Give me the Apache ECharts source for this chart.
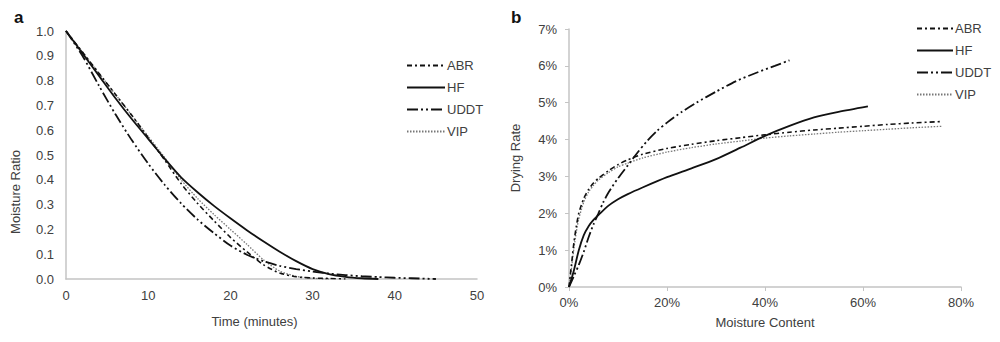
<!DOCTYPE html>
<html><head><meta charset="utf-8">
<script src="https://cdn.jsdelivr.net/npm/echarts@6/dist/echarts.min.js"></script>
<style>html,body{margin:0;padding:0;background:#fff}#c{width:1000px;height:342px}</style>
</head><body><div id="c"></div>
<script>
// ---- Panel a: Moisture Ratio vs Time (minutes)
const seriesNames = ['ABR', 'HF', 'UDDT', 'VIP'];
const timeTicksA = [0, 10, 20, 30, 40, 50];
const abrTime = [0,2,4,6,8,10,12,14,16,18,20,22,24,26,28,30,32,34];
const abrMR   = [1,0.915,0.83,0.745,0.66,0.57,0.48,0.385,0.305,0.235,0.168,0.11,0.058,0.024,0.009,0.004,0.002,0];
const hfTime  = [0,2,4,6,8,10,12,14,16,18,20,22,24,26,28,30,32,34,36,38];
const hfMR    = [1,0.91,0.82,0.73,0.645,0.565,0.485,0.41,0.35,0.295,0.245,0.197,0.152,0.11,0.072,0.04,0.02,0.009,0.003,0];
const uddtTime = [0,2,4,6,8,10,12,14,16,18,20,22,24,26,28,30,32,34,36,38,40,42,45];
const uddtMR   = [1,0.90,0.78,0.665,0.56,0.465,0.38,0.305,0.24,0.185,0.135,0.098,0.072,0.053,0.04,0.03,0.022,0.016,0.011,0.008,0.005,0.003,0];
const vipTime = [0,2,4,6,8,10,12,14,16,18,20,22,24,26,28,30,32];
const vipMR   = [1,0.915,0.83,0.745,0.66,0.575,0.49,0.40,0.325,0.26,0.20,0.14,0.078,0.032,0.011,0.003,0];

// ---- Panel b: Drying Rate (%) vs Moisture Content (%)
const abrMC = [0,0.5,1,1.5,2,3,4,5,6,8,10,12,15,20,25,30,35,40,45,50,55,60,65,70,76];
const abrDR = [0,0.6,1.2,1.65,2.0,2.4,2.65,2.82,2.95,3.15,3.32,3.45,3.6,3.76,3.87,3.97,4.05,4.13,4.2,4.26,4.31,4.36,4.41,4.45,4.49];
const hfMC = [0,1,2,3,4,5,6,8,10,12,15,20,25,30,35,40,45,50,55,61];
const hfDR = [0,0.45,1.0,1.4,1.65,1.82,1.95,2.2,2.38,2.52,2.7,2.98,3.22,3.47,3.78,4.1,4.37,4.6,4.75,4.9];
const uddtMC = [0,1,2,3,4,5,6,7,8,10,12,14,16,18,20,23,26,30,34,38,42,45];
const uddtDR = [0,0.3,0.6,0.95,1.35,1.7,2.0,2.3,2.55,2.95,3.3,3.65,3.97,4.24,4.46,4.75,5.0,5.3,5.58,5.8,6.0,6.15];
const vipMC = [0,0.5,1,1.5,2,3,4,5,6,8,10,12,15,20,25,30,35,40,45,50,55,60,65,70,76];
const vipDR = [0,0.5,1.05,1.5,1.85,2.3,2.58,2.76,2.9,3.1,3.26,3.36,3.5,3.66,3.78,3.88,3.96,4.04,4.1,4.15,4.2,4.24,4.28,4.32,4.36];

const pair = (xs, ys) => xs.map((x, i) => [x, ys[i]]);
const FONT = 'Liberation Sans, Arial, sans-serif';
const TXT = '#404040';
const AX = '#c4c4c4';

const styles = {
  ABR:  {color: '#111', width: 1.6, type: [5, 3, 2, 3]},
  HF:   {color: '#111', width: 1.8, type: 'solid'},
  UDDT: {color: '#111', width: 1.8, type: [11, 3, 2, 3, 2, 3]},
  VIP:  {color: '#777', width: 1.3, type: [1.5, 1.5]}
};
const dataA = {ABR: pair(abrTime, abrMR), HF: pair(hfTime, hfMR), UDDT: pair(uddtTime, uddtMR), VIP: pair(vipTime, vipMR)};
const dataB = {ABR: pair(abrMC, abrDR), HF: pair(hfMC, hfDR), UDDT: pair(uddtMC, uddtDR), VIP: pair(vipMC, vipDR)};

function mkSeries(data, idx) {
  return seriesNames.map(n => ({
    name: n, type: 'line', xAxisIndex: idx, yAxisIndex: idx,
    data: data[n], showSymbol: false, symbol: 'none', smooth: 0.25,
    lineStyle: styles[n], itemStyle: {color: styles[n].color}, z: n === 'VIP' ? 1 : 2
  }));
}

const legendCommon = {
  data: seriesNames, orient: 'vertical', itemHeight: 10, itemGap: 9, padding: 0,
  itemStyle: {opacity: 0},
  textStyle: {fontFamily: FONT, fontSize: 13, color: TXT, padding: [0, 0, 0, -3]}
};

const chart = echarts.init(document.getElementById('c'), null, {renderer: 'svg'});
chart.setOption({
  animation: false,
  backgroundColor: '#fff',
  title: [
    {text: 'a', left: 9, top: 4, textStyle: {fontFamily: FONT, fontWeight: 'bold', fontSize: 17, color: '#111'}},
    {text: 'b', left: 506, top: 4, textStyle: {fontFamily: FONT, fontWeight: 'bold', fontSize: 17, color: '#111'}}
  ],
  legend: [
    Object.assign({}, legendCommon, {left: 406, top: 59, itemWidth: 38}),
    Object.assign({}, legendCommon, {left: 916, top: 22, itemWidth: 36})
  ],
  grid: [
    {left: 66, top: 31, width: 411, height: 248, containLabel: false},
    {left: 569, top: 29, width: 392, height: 258, containLabel: false}
  ],
  xAxis: [
    {type: 'value', gridIndex: 0, min: 0, max: 50, interval: 10,
     name: 'Time (minutes)', nameLocation: 'middle', nameGap: 36,
     nameTextStyle: {fontFamily: FONT, fontSize: 13, color: TXT, padding: [0, 34, 0, 0]},
     axisLine: {lineStyle: {color: AX, width: 1.5}}, axisTick: {show: false}, splitLine: {show: false},
     axisLabel: {fontFamily: FONT, fontSize: 13, color: TXT, margin: 10}},
    {type: 'value', gridIndex: 1, min: 0, max: 80, interval: 20,
     name: 'Moisture Content', nameLocation: 'middle', nameGap: 29,
     nameTextStyle: {fontFamily: FONT, fontSize: 13, color: TXT},
     axisLine: {lineStyle: {color: AX, width: 1.5}}, axisTick: {show: true, length: 4, lineStyle: {color: AX}}, splitLine: {show: false},
     axisLabel: {fontFamily: FONT, fontSize: 13, color: TXT, margin: 9, formatter: '{value}%'}}
  ],
  yAxis: [
    {type: 'value', gridIndex: 0, min: 0, max: 1, interval: 0.1,
     name: 'Moisture Ratio', nameLocation: 'middle', nameGap: 44, nameRotate: 90,
     nameTextStyle: {fontFamily: FONT, fontSize: 13, color: TXT, padding: [0, 74, 0, 0]},
     axisLine: {show: true, lineStyle: {color: AX, width: 1.5}}, axisTick: {show: false}, splitLine: {show: false},
     axisLabel: {fontFamily: FONT, fontSize: 13, color: TXT, margin: 12, formatter: v => v.toFixed(1)}},
    {type: 'value', gridIndex: 1, min: 0, max: 7, interval: 1,
     name: 'Drying Rate', nameLocation: 'middle', nameGap: 47, nameRotate: 90,
     nameTextStyle: {fontFamily: FONT, fontSize: 13, color: TXT},
     axisLine: {show: true, lineStyle: {color: AX, width: 1.5}}, axisTick: {show: true, length: 4, lineStyle: {color: AX}}, splitLine: {show: false},
     axisLabel: {fontFamily: FONT, fontSize: 13, color: TXT, margin: 12, formatter: '{value}%'}}
  ],
  series: mkSeries(dataA, 0).concat(mkSeries(dataB, 1))
});
</script></body></html>
